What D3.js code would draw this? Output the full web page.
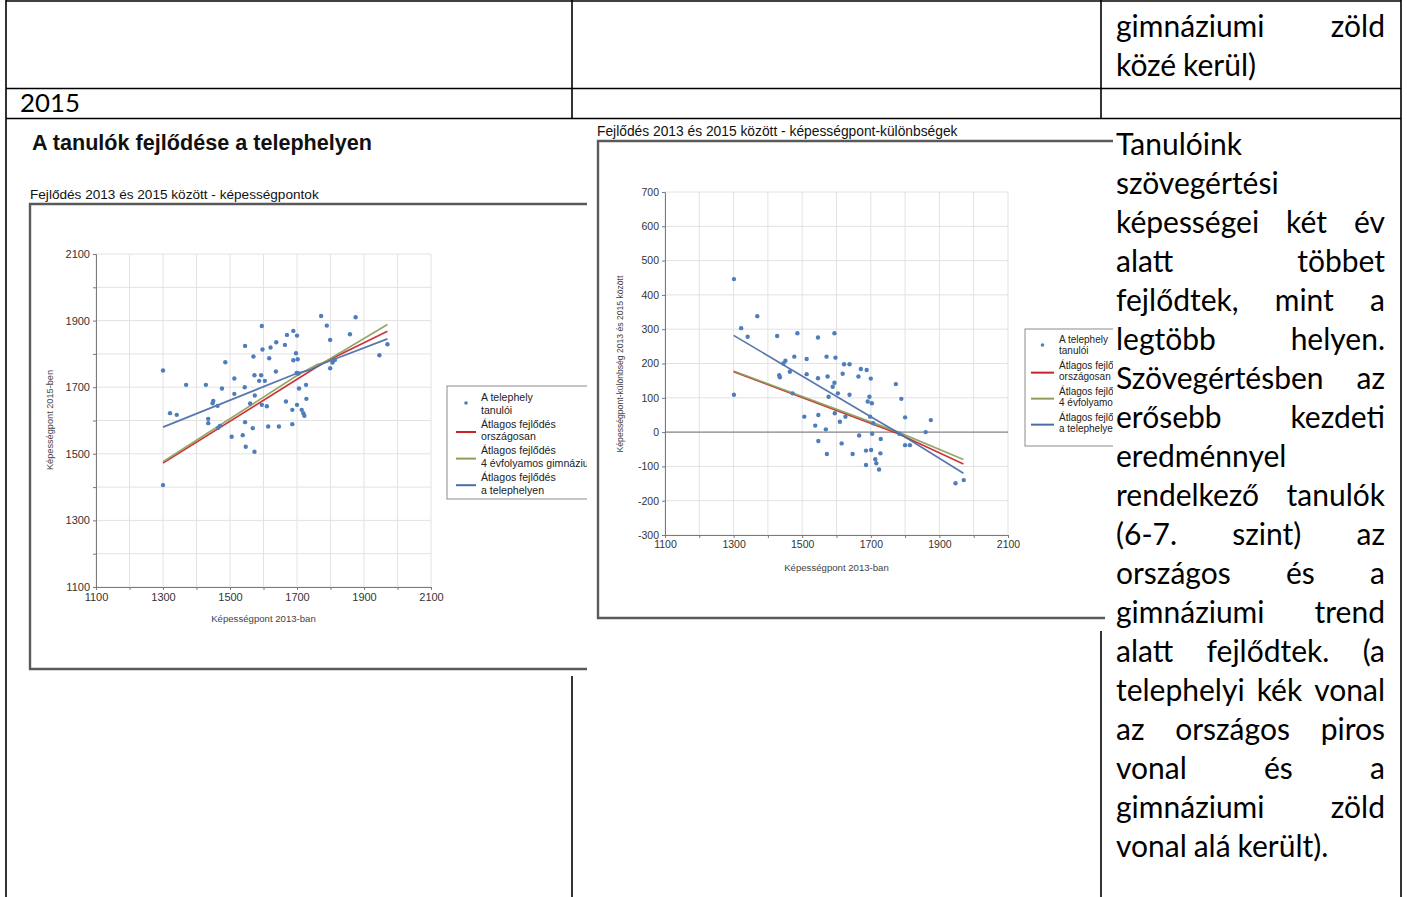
<!DOCTYPE html>
<html>
<head>
<meta charset="utf-8">
<script src="https://cdn.jsdelivr.net/npm/d3@7"></script>
<style>
  html, body { margin: 0; padding: 0; background: #fff; }
  svg { display: block; }
</style>
</head>
<body>
<div id="page"></div>
<script>
// ---------- Data ----------
const axisTickLabels = [1100, 1300, 1500, 1700, 1900, 2100];
const diffTickLabels = [-300, -200, -100, 0, 100, 200, 300, 400, 500, 600, 700];

// 2013 score, 2015 score
const scorePoints = [
  [1300,1750],[1300,1406],[1321,1622],[1341,1617],[1369,1707],[1428,1707],[1450,1659],[1448,1652],
  [1463,1644],[1435,1605],[1435,1592],[1470,1584],[1465,1578],[1476,1696],[1486,1775],[1513,1726],
  [1513,1680],[1505,1551],[1538,1556],[1547,1521],[1573,1506],[1545,1824],[1544,1700],[1570,1792],
  [1573,1736],[1593,1736],[1587,1719],[1604,1719],[1574,1675],[1560,1651],[1545,1595],[1568,1577],
  [1595,1884],[1597,1813],[1621,1819],[1638,1835],[1617,1787],[1637,1747],[1610,1643],[1595,1647],
  [1614,1582],[1646,1582],[1664,1827],[1670,1857],[1689,1869],[1700,1855],[1697,1802],[1689,1781],
  [1702,1784],[1699,1743],[1704,1741],[1727,1707],[1706,1696],[1728,1665],[1667,1657],[1700,1647],
  [1686,1632],[1714,1632],[1719,1622],[1722,1614],[1686,1589],[1772,1914],[1789,1885],[1799,1842],
  [1799,1757],[1813,1782],[1806,1774],[1875,1910],[1858,1859],[1946,1796],[1970,1829]
];
const scoreNational = [[1300,1472],[1780,1774],[1970,1868]];
const scoreGymnasium = [[1300,1476],[1700,1735],[1760,1768],[1780,1774],[1970,1888]];
const scoreSite = [[1300,1580],[1700,1742],[1740,1752],[1780,1772],[1970,1845]];

// 2013 score, difference 2013-2015
const diffPoints = [
  [1301,446],[1301,109],[1322,303],[1341,278],[1369,338],[1427,280],[1451,208],[1445,200],
  [1433,166],[1435,160],[1464,176],[1477,220],[1486,288],[1472,113],[1513,213],[1513,169],
  [1506,45],[1538,19],[1547,50],[1547,-26],[1546,276],[1546,157],[1571,220],[1574,162],
  [1569,8],[1572,-64],[1594,288],[1597,217],[1594,144],[1589,132],[1577,103],[1604,113],
  [1595,55],[1610,30],[1615,-33],[1622,198],[1638,198],[1618,170],[1638,109],[1626,45],
  [1647,-64],[1671,184],[1688,181],[1664,162],[1700,156],[1696,103],[1691,89],[1703,84],
  [1698,45],[1707,26],[1666,-10],[1704,-5],[1729,-20],[1686,-54],[1701,-52],[1728,-62],
  [1686,-96],[1713,-79],[1716,-91],[1724,-109],[1773,140],[1789,97],[1800,43],[1800,-38],
  [1814,-38],[1783,-5],[1860,0],[1875,35],[1947,-149],[1971,-140]
];
const diffNational = [[1300,176],[1780,-5],[1970,-93]];
const diffGymnasium = [[1300,178],[1780,0],[1970,-80]];
const diffSite = [[1300,282],[1700,45],[1780,-2],[1970,-120]];

const legendLabels = [
  ['A telephely', 'tanulói'],
  ['Átlagos fejlődés', 'országosan'],
  ['Átlagos fejlődés', '4 évfolyamos gimnázium'],
  ['Átlagos fejlődés', 'a telephelyen']
];

const topCellLines = ['gimnáziumi zöld', 'közé kerül)'];
const topCellJustify = [true, false];
const rowLabel = '2015';
const textCellLines = [
  'Tanulóink', 'szövegértési', 'képességei két év', 'alatt többet', 'fejlődtek, mint a',
  'legtöbb helyen.', 'Szövegértésben az', 'erősebb kezdeti', 'eredménnyel', 'rendelkező tanulók',
  '(6-7. szint) az', 'országos és a', 'gimnáziumi trend', 'alatt fejlődtek. (a',
  'telephelyi kék vonal', 'az országos piros', 'vonal és a', 'gimnáziumi zöld', 'vonal alá került).'
];
const textCellJustify = [false, false, true, true, true, true, true, true, false, true,
  true, true, true, true, true, true, true, true, false];

// ---------- Setup ----------
const W = 1407, H = 897;
const svg = d3.select('#page').append('svg').attr('width', W).attr('height', H);
svg.append('rect').attr('width', W).attr('height', H).attr('fill', '#fff');
const defs = svg.append('defs');

const COL = { dot: '#4d7dbb', red: '#c8222b', green: '#8c9f5a', blue: '#4a6da6' };
const chartFont = '"Liberation Sans", Arial, sans-serif';
const docFont = 'Lato, "Open Sans", sans-serif';

// ---------- Table rules ----------
const rules = svg.append('g').attr('stroke', '#000').attr('stroke-width', 1.6);
const hline = (y, x0, x1) => rules.append('line').attr('x1', x0).attr('x2', x1).attr('y1', y).attr('y2', y);
const vline = (x, y0, y1) => rules.append('line').attr('x1', x).attr('x2', x).attr('y1', y0).attr('y2', y1);
hline(1, 6, 1401); hline(88.5, 6, 1401); hline(118.5, 6, 1401);
vline(6, 0, H); vline(1401, 0, H);
vline(572, 0, 118.5); vline(572, 676, H);
vline(1101, 0, 118.5); vline(1101, 631, H);

// ---------- Chart helper ----------
function drawChart(opt) {
  const clipId = opt.id + '-clip';
  defs.append('clipPath').attr('id', clipId).append('rect')
    .attr('x', opt.clip[0]).attr('y', opt.clip[1]).attr('width', opt.clip[2]).attr('height', opt.clip[3]);
  const g = svg.append('g').attr('clip-path', `url(#${clipId})`).style('font-family', chartFont);
  const { x, y } = opt;

  // frame
  g.append('path').attr('d', opt.frame).attr('fill', 'none').attr('stroke', '#5a5a5a').attr('stroke-width', 2.4);

  // grid
  const xd = x.domain(), yd = y.domain();
  const grid = g.append('g').attr('stroke', '#e2e2e2').attr('stroke-width', 1);
  grid.selectAll('line.v').data(d3.range(xd[0], xd[1] + 1, 100)).join('line')
    .attr('x1', d => x(d)).attr('x2', d => x(d)).attr('y1', y(yd[0])).attr('y2', y(yd[1]));
  grid.selectAll('line.h').data(d3.range(yd[0], yd[1] + 1, 100)).join('line').attr('class', 'h')
    .attr('y1', d => y(d)).attr('y2', d => y(d)).attr('x1', x(xd[0])).attr('x2', x(xd[1]));
  if (opt.zeroLine) {
    g.append('line').attr('x1', x(xd[0])).attr('x2', x(xd[1])).attr('y1', y(0)).attr('y2', y(0))
      .attr('stroke', '#8a8a8a').attr('stroke-width', 1.2);
  }

  // axes
  const xAxis = d3.axisBottom(x).tickValues(d3.range(xd[0], xd[1] + 1, 100)).tickSize(3).tickPadding(3)
    .tickFormat(d => axisTickLabels.includes(d) ? d : '');
  const yAxis = d3.axisLeft(y).tickValues(d3.range(yd[0], yd[1] + 1, 100)).tickSize(3).tickPadding(3)
    .tickFormat(d => opt.yLabels.includes(d) ? d : '');
  const styleAxis = a => {
    a.select('.domain').attr('stroke', '#7a7a7a');
    a.selectAll('.tick line').attr('stroke', '#7a7a7a');
    a.selectAll('.tick text').attr('fill', '#333').style('font-size', opt.tickSize + 'px').style('font-family', chartFont);
  };
  g.append('g').attr('transform', `translate(0,${y(yd[0])})`).call(xAxis).call(styleAxis);
  g.append('g').attr('transform', `translate(${x(xd[0])},0)`).call(yAxis).call(styleAxis);

  // axis titles
  g.append('text').attr('x', (x(xd[0]) + x(xd[1])) / 2).attr('y', opt.xTitleY).attr('text-anchor', 'middle')
    .attr('fill', '#444').style('font-size', '9.6px').text('Képességpont 2013-ban');
  g.append('text').attr('transform', `translate(${opt.yTitlePos[0]},${opt.yTitlePos[1]}) rotate(-90)`)
    .attr('text-anchor', 'middle').attr('fill', '#444').style('font-size', opt.yTitleSize + 'px').text(opt.yTitle);

  // trend lines
  const line = d3.line().x(d => x(d[0])).y(d => y(d[1]));
  opt.lines.forEach(l => {
    g.append('path').datum(l.data).attr('d', line).attr('fill', 'none')
      .attr('stroke', l.color).attr('stroke-width', 1.7).attr('opacity', 0.92);
  });

  // points
  g.append('g').selectAll('circle').data(opt.points).join('circle')
    .attr('cx', d => x(d[0])).attr('cy', d => y(d[1])).attr('r', 2.2).attr('fill', COL.dot);

  // legend
  const L = opt.legend;
  g.append('rect').attr('x', L.x).attr('y', L.y).attr('width', 200).attr('height', L.h)
    .attr('fill', '#fff').attr('stroke', '#8c8c8c').attr('stroke-width', 1);
  const colors = [null, COL.red, COL.green, COL.blue];
  legendLabels.forEach((lab, i) => {
    const by = L.y0 + i * L.pitch;
    if (i === 0) {
      g.append('circle').attr('cx', L.sx0 + (L.sx1 - L.sx0) / 2).attr('cy', by + 2).attr('r', 1.8).attr('fill', COL.dot);
    } else {
      g.append('line').attr('x1', L.sx0).attr('x2', L.sx1).attr('y1', by + L.line / 2 - 2).attr('y2', by + L.line / 2 - 2)
        .attr('stroke', colors[i]).attr('stroke-width', 2);
    }
    lab.forEach((t, j) => {
      g.append('text').attr('x', L.tx).attr('y', by + j * L.line).attr('fill', '#222')
        .style('font-size', L.font + 'px').text(t);
    });
  });

  // titles
  (opt.titles || []).forEach(t => {
    g.append('text').attr('x', t.x).attr('y', t.y).attr('fill', '#111')
      .style('font-size', t.size + 'px').style('font-weight', t.bold ? 'bold' : 'normal').text(t.text);
  });
}

// Left chart: scores
drawChart({
  id: 'left',
  clip: [26, 120, 561, 556],
  frame: 'M587,204H30V669H587',
  x: d3.scaleLinear().domain([1100, 2100]).range([96, 431]),
  y: d3.scaleLinear().domain([1100, 2100]).range([587, 254]),
  yLabels: axisTickLabels,
  tickSize: 11,
  xTitleY: 622,
  yTitle: 'Képességpont 2015-ben',
  yTitleSize: 9.2,
  yTitlePos: [53, 420],
  lines: [
    { data: scoreNational, color: COL.red },
    { data: scoreGymnasium, color: COL.green },
    { data: scoreSite, color: COL.blue }
  ],
  points: scorePoints,
  legend: { x: 447, y: 386, h: 113, y0: 401, pitch: 26.6, line: 12.8, font: 10.6, tx: 481, sx0: 456, sx1: 476 },
  titles: [
    { x: 32, y: 150, size: 21.6, bold: true, text: 'A tanulók fejlődése a telephelyen' },
    { x: 30, y: 199, size: 13.6, text: 'Fejlődés 2013 és 2015 között - képességpontok' }
  ]
});

// Right chart: differences
drawChart({
  id: 'right',
  clip: [594, 122, 519, 500],
  frame: 'M1113,141H598V618H1105',
  x: d3.scaleLinear().domain([1100, 2100]).range([665, 1008]),
  y: d3.scaleLinear().domain([-300, 700]).range([535, 192]),
  yLabels: diffTickLabels,
  tickSize: 10.5,
  xTitleY: 571,
  yTitle: 'Képességpont-különbség 2013 és 2015 között',
  yTitleSize: 8.6,
  yTitlePos: [623, 364],
  zeroLine: true,
  lines: [
    { data: diffNational, color: COL.red },
    { data: diffGymnasium, color: COL.green },
    { data: diffSite, color: COL.blue }
  ],
  points: diffPoints,
  legend: { x: 1025, y: 329, h: 117, y0: 343, pitch: 26, line: 11.3, font: 10, tx: 1059, sx0: 1031, sx1: 1054 },
  titles: [
    { x: 597, y: 136, size: 13.8, text: 'Fejlődés 2013 és 2015 között - képességpont-különbségek' }
  ]
});

// ---------- Document text ----------
const doc = svg.append('g').style('font-family', docFont).attr('fill', '#000');
// pick a font size so that the widest full line spans the cell like in the source
const probe = doc.append('text').style('font-size', '100px').text('telephelyi kék vonal');
const probeW = probe.node().getComputedTextLength();
probe.remove();
const fs = Math.min(30, 100 * 266 / probeW);
doc.style('font-size', fs + 'px');

function placeLine(str, x0, x1, y, justify, size) {
  const words = str.split(' ');
  const nodes = words.map(w => doc.append('text').attr('y', y).style('font-size', (size || fs) + 'px').text(w));
  const widths = nodes.map(n => n.node().getComputedTextLength());
  const space = fs * 0.23;
  let gap = space;
  if (justify && words.length > 1) {
    gap = Math.max(space * 0.6, (x1 - x0 - d3.sum(widths)) / (words.length - 1));
  }
  let xx = x0;
  nodes.forEach((n, i) => { n.attr('x', xx); xx += widths[i] + gap; });
}

topCellLines.forEach((l, i) => placeLine(l, 1116, 1385, 37 + i * 39, topCellJustify[i]));
placeLine(rowLabel, 20, 300, 112, false, fs * 0.86);
textCellLines.forEach((l, i) => placeLine(l, 1116, 1385, 155 + i * 39, textCellJustify[i]));
</script>
</body>
</html>
